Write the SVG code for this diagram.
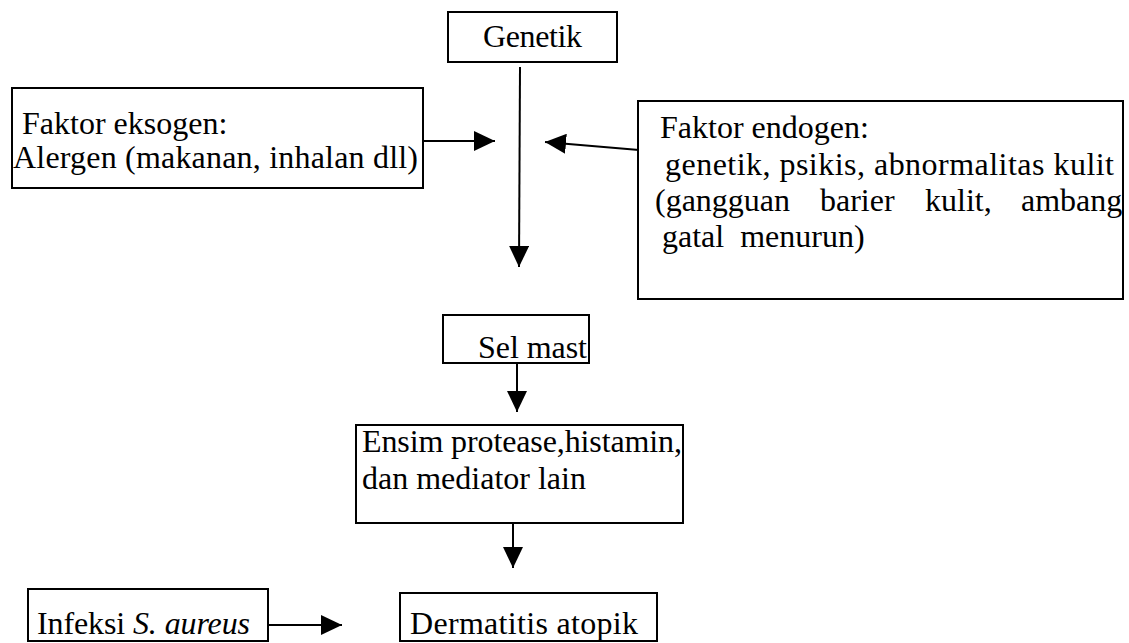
<svg xmlns="http://www.w3.org/2000/svg" width="1129" height="643" viewBox="0 0 1129 643">
<style>
.box{fill:#fff;stroke:#000;stroke-width:2}
.t{font-family:'Liberation Serif','DejaVu Serif','Times New Roman',serif;font-size:32px;fill:#000}
.c{stroke:#000;stroke-width:2;fill:none}
</style>
<defs>
<marker id="ah" markerUnits="userSpaceOnUse" markerWidth="21" markerHeight="20" refX="21" refY="10" orient="auto">
<path d="M0,0 L21,10 L0,20 z" fill="#000"/>
</marker>
</defs>
<rect width="1129" height="643" fill="#fff"/>
<g id="connectors">
<line class="c" x1="520" y1="67" x2="519" y2="267" marker-end="url(#ah)"/>
<line class="c" x1="423" y1="141" x2="495" y2="141" marker-end="url(#ah)"/>
<line class="c" x1="639" y1="150" x2="545" y2="142" marker-end="url(#ah)"/>
<line class="c" x1="517" y1="363" x2="517" y2="412" marker-end="url(#ah)"/>
<line class="c" x1="513" y1="523" x2="513" y2="568" marker-end="url(#ah)"/>
<line class="c" x1="268" y1="625" x2="342" y2="625" marker-end="url(#ah)"/>
</g>
<g id="genetik">
<rect class="box" x="448" y="12" width="169" height="50"/>
<text class="t" x="483" y="47" textLength="99">Genetik</text>
</g>
<g id="eksogen">
<rect class="box" x="12" y="88" width="411" height="100"/>
<text class="t" x="22" y="134" font-size="31">Faktor eksogen:</text>
<text class="t" x="13" y="168" font-size="31" textLength="405">Alergen (makanan, inhalan dll)</text>
</g>
<g id="endogen">
<rect class="box" x="638" y="101" width="485" height="198"/>
<text class="t" x="660" y="138">Faktor endogen:</text>
<text class="t" x="665" y="175" textLength="449">genetik, psikis, abnormalitas kulit</text>
<text class="t" x="655" y="211">(gangguan</text>
<text class="t" x="820" y="211">barier</text>
<text class="t" x="925" y="211">kulit,</text>
<text class="t" x="1021" y="211">ambang</text>
<text class="t" x="662" y="247" xml:space="preserve">gatal  menurun)</text>
</g>
<g id="selmast">
<rect class="box" x="443" y="315" width="146" height="48"/>
<text class="t" x="478" y="358" textLength="109">Sel mast</text>
</g>
<g id="ensim">
<rect class="box" x="356" y="425" width="327" height="98"/>
<text class="t" x="362" y="452" textLength="320">Ensim protease,histamin,</text>
<text class="t" x="362" y="489">dan mediator lain</text>
</g>
<g id="infeksi">
<rect class="box" x="28" y="589" width="240" height="52"/>
<text class="t" x="37" y="634" textLength="213">Infeksi <tspan font-style="italic">S. aureus</tspan></text>
</g>
<g id="dermatitis">
<rect class="box" x="400" y="593" width="257" height="48"/>
<text class="t" x="410" y="634" textLength="228">Dermatitis atopik</text>
</g>
</svg>
